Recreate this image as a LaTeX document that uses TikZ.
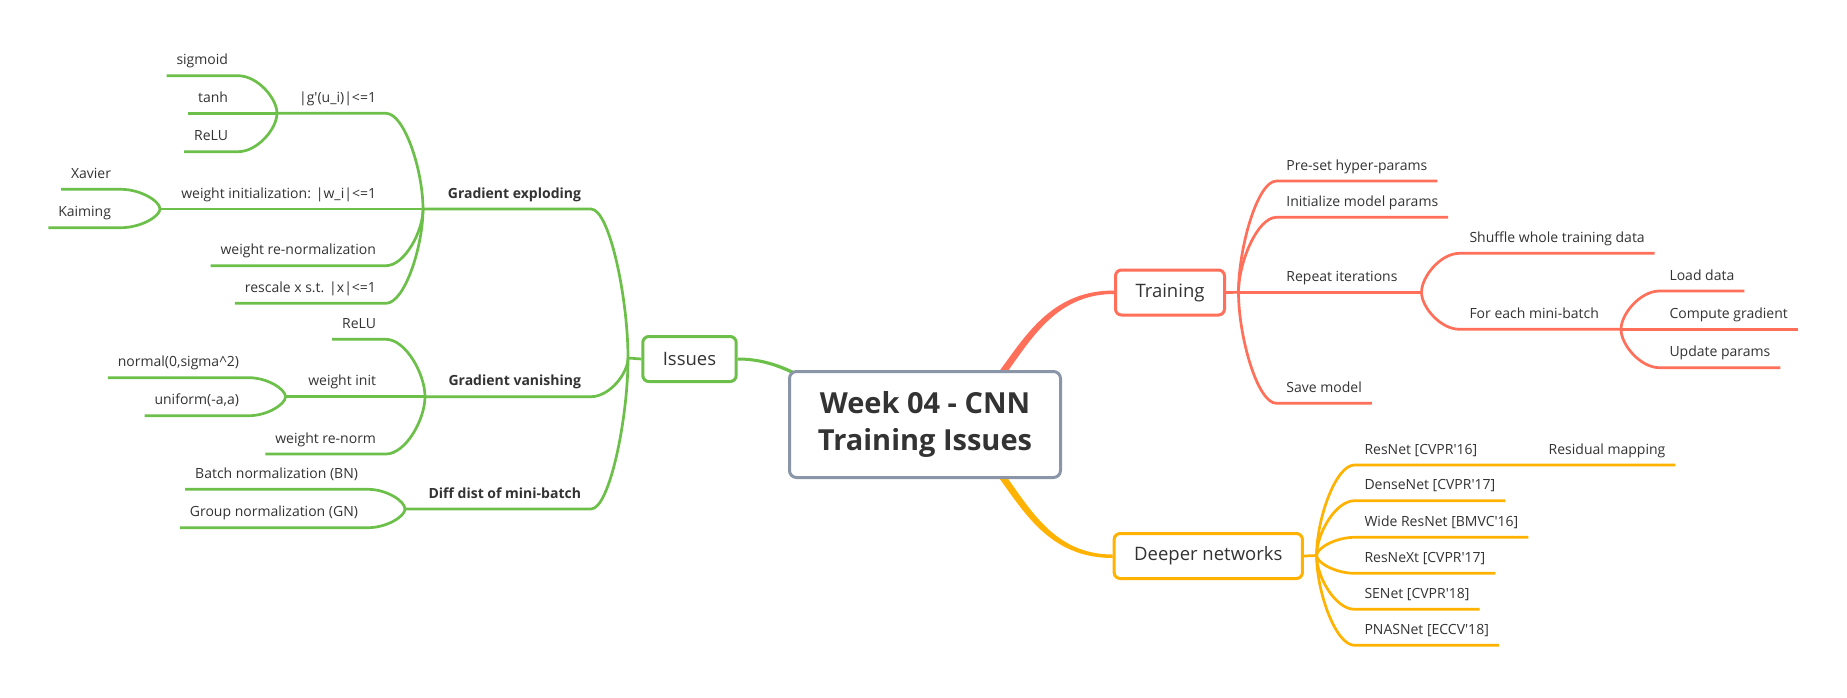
\documentclass[tikz,border=0pt]{standalone}
\usepackage{fontspec}
\setmainfont{Open Sans}
\usetikzlibrary{calc,backgrounds}

\definecolor{grn}{RGB}{108,192,74}
\definecolor{rdd}{RGB}{255,111,89}
\definecolor{amb}{RGB}{255,179,0}
\definecolor{bdr}{RGB}{138,150,168}
\definecolor{txt}{RGB}{51,51,51}

\tikzset{
  leaf/.style={font=\fontsize{7}{8}\selectfont, text=txt, inner xsep=5pt, inner ysep=5.5pt, text depth=0pt, outer sep=0pt},
  leafb/.style={leaf, font=\fontsize{7}{8}\selectfont\bfseries},
  topic/.style={draw, rounded corners=3pt, line width=1.5pt, fill=white, text=txt, font=\fontsize{9.25}{11}\selectfont, minimum height=22.5pt, inner xsep=10pt},
  link/.style={to path={.. controls ($(\tikztostart)!.5!(\tikztotarget |- \tikztostart)$) and ($(\tikztotarget)!.4!(\tikztotarget |- \tikztostart)$) .. (\tikztotarget)}},
  gbr/.style={grn, line width=1.35pt},
  rbr/.style={rdd, line width=1.35pt},
  ybr/.style={amb, line width=1.35pt}
}

\begin{document}
\begin{tikzpicture}[x=0.5pt, y=-0.5pt]
        \useasboundingbox (0,0) rectangle (1847,697);
        % 中心主题
        \node [draw=bdr, line width=1.5pt, rounded corners=3.5pt, fill=white, minimum width=135.5pt, minimum height=53pt,
               align=center, text=txt, font=\fontsize{14.5}{18.35}\selectfont\bfseries] (root) at (925,424.5) {Week 04 - CNN\\Training Issues};
        % 分支主题
        \node [topic, draw=grn] (issues) at (689.5,359) {Issues};
        \node [topic, draw=rdd] (train) at (1170,292.5) {Training};
        \node [topic, draw=amb] (deep) at (1208.3,556) {Deeper networks};

        % Issues 左侧
        \coordinate (j-issues) at (628,358);
        \node [leafb, anchor=south east] (gexp) at (591,209) {Gradient exploding};
        \node [leafb, anchor=south east] (gvan) at (591,396.7) {Gradient vanishing};
        \node [leafb, anchor=south east] (ddist) at (591,509) {Diff dist of mini-batch};
        \coordinate (j-gexp) at (423,209);
        \coordinate (j-gvan) at (425,396.7);
        \coordinate (j-ddist) at (405,509);

        \node [leaf, anchor=south east] (gbnd) at (386,113.3) {|g\textquotesingle(u\_i)|<=1};
        \node [leaf, anchor=south east] (winit) at (386,209) {weight initialization: |w\_i|<=1};
        \node [leaf, anchor=south east] (wrenorm) at (386,265.7) {weight re-normalization};
        \node [leaf, anchor=south east] (rescale) at (386,303.3) {rescale x s.t. |x|<=1};
        \coordinate (j-gbnd) at (277,113.3);
        \coordinate (j-winit) at (160,209);

        \node [leaf, anchor=south east] (sigm) at (238,75.7) {sigmoid};
        \node [leaf, anchor=south east] (tanh) at (238,113.3) {tanh};
        \node [leaf, anchor=south east] (relua) at (238,151.7) {ReLU};
        \node [leaf, anchor=south east] (xav) at (121,189.3) {Xavier};
        \node [leaf, anchor=south east] (kai) at (121,227.7) {Kaiming};

        \node [leaf, anchor=south east] (relub) at (386,339.3) {ReLU};
        \node [leaf, anchor=south east] (winitb) at (386,396.7) {weight init};
        \node [leaf, anchor=south east] (wrnb) at (386,454) {weight re-norm};
        \coordinate (j-winitb) at (285.5,396.7);
        \node [leaf, anchor=south east] (normal) at (249,377.7) {normal(0,sigma\textasciicircum 2)};
        \node [leaf, anchor=south east] (unif) at (249,415.7) {uniform(-a,a)};

        \node [leaf, anchor=south east] (bn) at (368,489.3) {Batch normalization (BN)};
        \node [leaf, anchor=south east] (gn) at (368,527.7) {Group normalization (GN)};

        % Training 右侧
        \coordinate (j-train) at (1238.5,292.3);
        \node [leaf, anchor=south west] (pre) at (1276.4,181) {Pre-set hyper-params};
        \node [leaf, anchor=south west] (initp) at (1276.4,217.3) {Initialize model params};
        \node [leaf, anchor=south west] (repeat) at (1276.4,292.3) {Repeat iterations};
        \node [leaf, anchor=south west] (save) at (1276.4,403.3) {Save model};
        \coordinate (j-repeat) at (1421.5,292.3);
        \node [leaf, anchor=south west] (shuffle) at (1459.5,253.3) {Shuffle whole training data};
        \node [leaf, anchor=south west] (foreach) at (1459.5,329.3) {For each mini-batch};
        \coordinate (j-foreach) at (1621,329.3);
        \node [leaf, anchor=south west] (load) at (1659.5,291) {Load data};
        \node [leaf, anchor=south west] (comp) at (1659.5,329.3) {Compute gradient};
        \node [leaf, anchor=south west] (upd) at (1659.5,367.7) {Update params};

        % Deeper networks 右侧
        \coordinate (j-deep) at (1316.6,555.5);
        \node [leaf, anchor=south west] (resnet) at (1354.5,465) {ResNet [CVPR\textquotesingle16]};
        \node [leaf, anchor=south west] (resmap) at (1538.7,465) {Residual mapping};
        \node [leaf, anchor=south west] (dense) at (1354.5,500.7) {DenseNet [CVPR\textquotesingle17]};
        \node [leaf, anchor=south west] (wide) at (1354.5,537.3) {Wide ResNet [BMVC\textquotesingle16]};
        \node [leaf, anchor=south west] (resnext) at (1354.5,573.3) {ResNeXt [CVPR\textquotesingle17]};
        \node [leaf, anchor=south west] (senet) at (1354.5,609.3) {SENet [CVPR\textquotesingle18]};
        \node [leaf, anchor=south west] (pnas) at (1354.5,645.3) {PNASNet [ECCV\textquotesingle18]};

        \begin{scope}[on background layer]
        \fill [white] (0,0) rectangle (1847,697);
        % 主干 (渐细)
        \fill [grn] ([yshift=1.75pt]root.center) .. controls +(-85,0) and +(73,0) .. ([yshift=0.75pt]issues.east)
                    -- ([yshift=-0.75pt]issues.east) .. controls +(73,0) and +(-85,0) .. ([yshift=-1.75pt]root.center) -- cycle;
        \fill [rdd] ([yshift=1.75pt]root.center) .. controls +(82,0) and +(-106,0) .. ([yshift=1pt]train.west)
                    -- ([yshift=-0.75pt]train.west) .. controls +(-100,0) and +(88,0) .. ([yshift=-1.75pt]root.center) -- cycle;
        \fill [amb] ([yshift=1.75pt]root.center) .. controls +(88,0) and +(-100,0) .. ([yshift=0.75pt]deep.west)
                    -- ([yshift=-1pt]deep.west) .. controls +(-106,0) and +(82,0) .. ([yshift=-1.75pt]root.center) -- cycle;

        % Issues 分支
        \draw [gbr] (issues.west) -- (j-issues);
        \draw [gbr] (j-gexp) -- (gexp.south east) to[link] (j-issues);
        \draw [gbr] (j-gvan) -- (gvan.south east) to[link] (j-issues);
        \draw [gbr] (j-ddist) -- (ddist.south east) to[link] (j-issues);
        \draw [gbr] (j-gbnd) -- (gbnd.south east) to[link] (j-gexp);
        \draw [gbr] (j-winit) -- (winit.south east) -- (j-gexp);
        \draw [gbr] (wrenorm.south west) -- (wrenorm.south east) to[link] (j-gexp);
        \draw [gbr] (rescale.south west) -- (rescale.south east) to[link] (j-gexp);
        \draw [gbr] (sigm.south west) -- (sigm.south east) to[link] (j-gbnd);
        \draw [gbr] (tanh.south west) -- (j-gbnd);
        \draw [gbr] (relua.south west) -- (relua.south east) to[link] (j-gbnd);
        \draw [gbr] (xav.south west) -- (xav.south east) to[link] (j-winit);
        \draw [gbr] (kai.south west) -- (kai.south east) to[link] (j-winit);
        \draw [gbr] (relub.south west) -- (relub.south east) to[link] (j-gvan);
        \draw [gbr] (j-winitb) -- (winitb.south east) -- (j-gvan);
        \draw [gbr] (wrnb.south west) -- (wrnb.south east) to[link] (j-gvan);
        \draw [gbr] (normal.south west) -- (normal.south east) to[link] (j-winitb);
        \draw [gbr] (unif.south west) -- (unif.south east) to[link] (j-winitb);
        \draw [gbr] (bn.south west) -- (bn.south east) to[link] (j-ddist);
        \draw [gbr] (gn.south west) -- (gn.south east) to[link] (j-ddist);

        % Training 分支
        \draw [rbr] (train.east) -- (j-train);
        \draw [rbr] (pre.south east) -- (pre.south west) to[link] (j-train);
        \draw [rbr] (initp.south east) -- (initp.south west) to[link] (j-train);
        \draw [rbr] (j-repeat) -- (repeat.south west) -- (j-train);
        \draw [rbr] (save.south east) -- (save.south west) to[link] (j-train);
        \draw [rbr] (shuffle.south east) -- (shuffle.south west) to[link] (j-repeat);
        \draw [rbr] (j-foreach) -- (foreach.south west) to[link] (j-repeat);
        \draw [rbr] (load.south east) -- (load.south west) to[link] (j-foreach);
        \draw [rbr] (comp.south east) -- (j-foreach);
        \draw [rbr] (upd.south east) -- (upd.south west) to[link] (j-foreach);

        % Deeper networks 分支
        \draw [ybr] (deep.east) -- (j-deep);
        \draw [ybr] (resmap.south east) -- (resnet.south west) to[link] (j-deep);
        \draw [ybr] (dense.south east) -- (dense.south west) to[link] (j-deep);
        \draw [ybr] (wide.south east) -- (wide.south west) to[link] (j-deep);
        \draw [ybr] (resnext.south east) -- (resnext.south west) to[link] (j-deep);
        \draw [ybr] (senet.south east) -- (senet.south west) to[link] (j-deep);
        \draw [ybr] (pnas.south east) -- (pnas.south west) to[link] (j-deep);
        \end{scope}
    \end{tikzpicture}
\end{document}
